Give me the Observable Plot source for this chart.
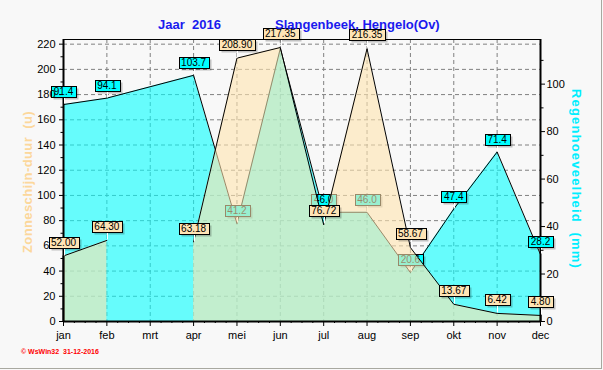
<!DOCTYPE html>
<html><head><meta charset="utf-8">
<script src="https://cdn.jsdelivr.net/npm/d3@7"></script>
<script src="https://cdn.jsdelivr.net/npm/@observablehq/plot@0.6"></script>
<style>
body{margin:0;background:#ffffff;}
#chart{position:relative;width:603px;height:370px;overflow:hidden;background:#f8f8f8}
#chart svg{position:absolute;left:0;top:0}
.edge-r{position:absolute;left:601px;top:0;width:1px;height:369px;background:#a8a8a0}
.edge-b{position:absolute;left:0;top:368px;width:602px;height:1px;background:#a8a8a0}
</style></head><body>
<div id="chart"><div class="edge-r"></div><div class="edge-b"></div></div>
<script>
const months = ["jan","feb","mrt","apr","mei","jun","jul","aug","sep","okt","nov","dec"];
const sunshine = [52.00, 64.30, null, 63.18, 208.90, 217.35, 76.72, 216.35, 58.67, 13.67, 6.42, 4.80];
const rain = [91.4, 94.1, null, 103.7, 41.2, 115.0, 46.0, 46.0, 20.6, 47.4, 71.4, 28.2];
const hiddenRainLabels = ["jun"];
const sunTicks = [0, 20, 40, 60, 80, 100, 120, 140, 160, 180, 200, 220];
const sunMinorTicks = [10, 30, 50, 70, 90, 110, 130, 150, 170, 190, 210];
const rainTicks = [0, 20, 40, 60, 80, 100];
const rainMinorTicks = [10, 30, 50, 70, 90, 110];
const sunMax = 223.7, rainMax = 118.8;
const k = sunMax / rainMax;

const sunData = months.map((m, i) => ({i, m, v: sunshine[i]}));
const sunDefined = sunData.filter(d => d.v != null);
const rainData = months.map((m, i) => ({i, m, v: rain[i]})).filter(d => d.v != null);
const rainLabelData = rainData.filter(d => !hiddenRainLabels.includes(d.m));
const monthIdx = months.map((m, i) => i);
const quarterTicks = d3.range(0, 11, 0.25).filter(v => v % 1 !== 0);
const edges = [{x: 0, y: sunshine[0]}, {x: 11, y: sunshine[11]}];

const font = "'Liberation Sans', Arial, Helvetica, sans-serif";

const svg = Plot.plot({
  width: 603, height: 370,
  marginLeft: 63, marginRight: 63, marginTop: 39, marginBottom: 49,
  x: {type: "linear", domain: [0, 11]},
  y: {domain: [0, sunMax]},
  style: {fontFamily: font, background: "transparent", overflow: "visible"},
  marks: [
    Plot.ruleY(sunTicks.slice(1), {stroke: "#808080", strokeDasharray: "4,3"}),
    Plot.ruleX(monthIdx.slice(1, -1), {stroke: "#808080", strokeDasharray: "4,3"}),
    Plot.area(rainData, {x1: "i", y1: 0, y2: d => d.v * k, fill: "#00ffff", fillOpacity: 0.59}),
    Plot.line(rainData, {x: "i", y: d => d.v * k, stroke: "black", strokeWidth: 1}),
    Plot.frame({stroke: "black"}),
    Plot.ruleX([0, 11], {stroke: "black", strokeWidth: 2}),
    Plot.text(rainLabelData, {x: "i", y: d => d.v * k, text: d => d.v.toFixed(1), dy: -12.5, fontSize: 10, fill: "black", ariaDescription: "rain-labels"}),
    Plot.area(sunData, {x1: "i", y1: 0, y2: "v", fill: "#ffe4af", fillOpacity: 0.6}),
    Plot.line(sunData, {x: "i", y: "v", stroke: "black", strokeWidth: 1}),
    Plot.ruleX(edges, {x: "x", y1: 0, y2: "y", stroke: "black", strokeWidth: 2}),
    Plot.ruleY([0], {stroke: "black", strokeWidth: 2}),
    Plot.axisY(sunTicks, {anchor: "left", tickSize: 4, tickPadding: 4, fontSize: 11, label: null}),
    Plot.axisY(sunMinorTicks, {anchor: "left", tickSize: 2.5, tickFormat: () => "", label: null}),
    Plot.axisY(rainTicks.map(v => v * k), {anchor: "right", tickSize: 4, tickPadding: 2, fontSize: 11, tickFormat: v => Math.round(v / k), label: null}),
    Plot.axisY(rainMinorTicks.map(v => v * k), {anchor: "right", tickSize: 2.5, tickFormat: () => "", label: null}),
    Plot.axisX(monthIdx, {anchor: "bottom", tickSize: 5, tickPadding: 5, fontSize: 11, tickFormat: i => months[i], label: null}),
    Plot.axisX(quarterTicks, {anchor: "bottom", tickSize: 2, tickFormat: () => "", label: null}),
    Plot.text(sunDefined, {x: "i", y: "v", text: d => d.v.toFixed(2), dy: -13.5, fontSize: 10, fill: "black", ariaDescription: "sun-labels"})
  ]
});
document.getElementById("chart").appendChild(svg);

const ns = "http://www.w3.org/2000/svg";
function el(name, attrs, parent) {
  const e = document.createElementNS(ns, name);
  for (const a in attrs) e.setAttribute(a, attrs[a]);
  if (parent) parent.appendChild(e);
  return e;
}
function boxLabels(desc, fill, gap) {
  const g = svg.querySelector(`g[aria-description="${desc}"]`);
  if (!g) return;
  const sr = svg.getBoundingClientRect();
  const bg = el("g", {});
  g.parentNode.insertBefore(bg, g);
  for (const t of g.querySelectorAll("text")) {
    const r = t.getBoundingClientRect();
    const cx = r.left - sr.left + r.width / 2;
    const cy = r.top - sr.top + r.height / 2;
    const w = Math.round(r.width + 5), h = 11;
    const x0 = Math.round(cx - w / 2) + 0.5, y0 = Math.round(cy - h / 2) + 0.5;
    el("rect", {x: x0 + 2, y: y0 + 2, width: w, height: h, fill: "#000", "fill-opacity": 0.22}, bg);
    el("line", {x1: Math.round(cx) + 0.5, x2: Math.round(cx) + 0.5, y1: y0 + h, y2: y0 + h + gap - 1, stroke: "#ffffff"}, bg);
    el("rect", {x: x0, y: y0, width: w, height: h, fill: fill, stroke: "black", "stroke-width": 1}, bg);
  }
}
boxLabels("rain-labels", "#00ffff", 7);
boxLabels("sun-labels", "#ffe4b5", 8);

function addText(str, attrs, style) {
  const t = el("text", Object.assign({"text-anchor": "start"}, attrs), svg);
  t.textContent = str;
  t.setAttribute("style", "white-space:pre;font-family:" + font + ";" + (style || ""));
  return t;
}
addText("Jaar  2016", {x: 158, y: 29, fill: "#1a1aee"}, "font-size:13px;font-weight:bold;");
addText("Slangenbeek, Hengelo(Ov)", {x: 275, y: 29, fill: "#1a1aee"}, "font-size:13px;font-weight:bold;");
addText("Zonneschijn-duur  (u)", {transform: "translate(32,182) rotate(-90)", "text-anchor": "middle", fill: "#fcd79b"}, "font-size:13px;font-weight:bold;letter-spacing:0.4px;");
addText("Regenhoeveelheid  (mm)", {transform: "translate(572,179) rotate(90)", "text-anchor": "middle", fill: "#00eeff"}, "font-size:13px;font-weight:bold;letter-spacing:1.2px;");
addText("© WsWin32  31-12-2016", {x: 21, y: 354, fill: "#ff0000"}, "font-size:7px;font-weight:bold;");
</script>
</body></html>
